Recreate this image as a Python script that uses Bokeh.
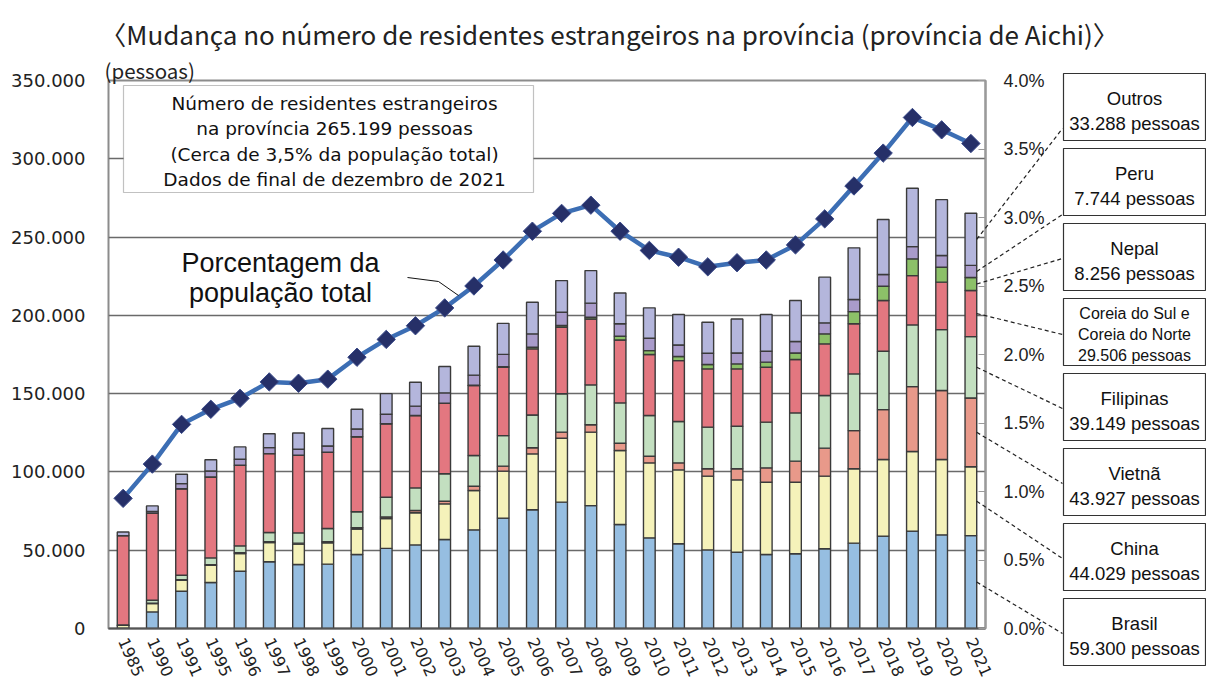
from bokeh.plotting import figure
from bokeh.models import (Range1d, LinearAxis, SingleIntervalTicker, PrintfTickFormatter,
                          CustomJSTickFormatter, Label, BoxAnnotation, Arrow, ColumnDataSource,
                          GridBox)
from bokeh.core.properties import value
from bokeh.embed import file_html
from bokeh.resources import INLINE

years = ["1985", "1990", "1991", "1995", "1996", "1997", "1998", "1999", "2000", "2001",
         "2002", "2003", "2004", "2005", "2006", "2007", "2008", "2009", "2010", "2011",
         "2012", "2013", "2014", "2015", "2016", "2017", "2018", "2019", "2020", "2021"]

brasil = [200, 10600, 23800, 29400, 36600, 42600, 40900, 41100, 47300, 51200,
          53400, 56800, 63000, 70500, 75800, 80700, 78500, 66400, 57900, 54100,
          50200, 48700, 47300, 47700, 50900, 54500, 59000, 62200, 59800, 59300]
china = [1800, 5300, 7000, 11000, 11300, 12300, 13000, 13600, 16200, 19000,
         20500, 22800, 25100, 30000, 35700, 40800, 46900, 47300, 47900, 47200,
         47100, 46200, 46100, 45700, 46400, 47500, 48900, 50800, 48100, 44029]
vietna = [100, 200, 300, 400, 500, 500, 600, 700, 800, 1000,
          1500, 1700, 2800, 3200, 3900, 3900, 4700, 4600, 4200, 4500,
          4700, 7100, 9200, 13500, 17900, 24400, 31900, 41500, 44100, 43927]
filipinas = [200, 1900, 2900, 4300, 4400, 5900, 6600, 8500, 10300, 12600,
             14400, 17500, 19600, 19500, 21000, 24500, 25500, 25800, 26000, 26400,
             26600, 27200, 29200, 30800, 33600, 36200, 37300, 39400, 38900, 39149]
coreia = [57000, 55800, 55300, 51700, 51500, 50400, 49600, 48700, 47900, 47000,
          46200, 45100, 44700, 43700, 42200, 42500, 42100, 40200, 39000, 38900,
          37200, 36600, 35100, 34100, 33000, 32000, 32400, 31500, 30300, 29506]
nepal = [0, 0, 0, 0, 0, 0, 0, 0, 0, 0,
         0, 0, 200, 300, 1000, 1100, 1100, 2400, 2500, 2600,
         2800, 3200, 3200, 4200, 6400, 7800, 9100, 10700, 9500, 8256]
peru = [0, 1000, 3200, 3800, 3800, 3800, 3800, 4000, 4900, 6000,
        6000, 6600, 6400, 7900, 8600, 8500, 9000, 7900, 7900, 7400,
        7200, 7000, 7000, 7300, 7000, 7700, 7500, 7800, 7500, 7744]
outros = [2300, 3500, 6000, 7200, 7900, 8900, 10400, 11100, 12600, 13200,
          15300, 16800, 18500, 19800, 20200, 20200, 20800, 19700, 19400, 19400,
          19800, 21700, 23400, 26200, 29200, 33000, 35100, 37300, 35700, 33288]
pct = [0.95, 1.20, 1.49, 1.60, 1.68, 1.80, 1.79, 1.82, 1.98, 2.11,
       2.21, 2.34, 2.50, 2.69, 2.90, 3.03, 3.09, 2.90, 2.76, 2.71,
       2.64, 2.67, 2.69, 2.80, 2.99, 3.23, 3.47, 3.73, 3.64, 3.54]

series_keys = ["brasil", "china", "vietna", "filipinas", "coreia", "nepal", "peru", "outros"]
series_names = ["Brasil", "China", "Vietnã", "Filipinas", "Coreia do Sul e|Coreia do Norte",
                "Nepal", "Peru", "Outros"]
colors = ["#96BEE1", "#F5F2BA", "#E8998A", "#C3DFC0", "#E37780", "#8CC068", "#A99BCA", "#B4B6DC"]

title_text = "〈Mudança no número de residentes estrangeiros na província (província de Aichi)〉"
unit_text = "(pessoas)"
info_lines = ["Número de residentes estrangeiros",
              "na província 265.199 pessoas",
              "(Cerca de 3,5% da população total)",
              "Dados de final de dezembro de 2021"]

data = dict(years=years, brasil=brasil, china=china, vietna=vietna, filipinas=filipinas,
            coreia=coreia, nepal=nepal, peru=peru, outros=outros, pct=pct)
src = ColumnDataSource(data)

W, H = 1206, 684
FL, FR, FT, FB = 108, 985, 80, 628   # frame edges (canvas px)
YMAX = 350000

p = figure(width=W, height=H, x_range=years, y_range=Range1d(0, YMAX),
           output_backend="svg", toolbar_location=None,
           min_border_left=FL, min_border_right=W - FR, min_border_top=FT, min_border_bottom=H - FB)
p.frame_align = False
p.background_fill_color = "white"
p.border_fill_color = "white"
p.outline_line_color = "#8c8c8c"
p.outline_line_width = 2

p.extra_y_ranges = {"pct": Range1d(0, 4.0)}

p.vbar_stack(series_keys, x="years", width=0.4, source=src,
             fill_color=colors, line_color="#3a3a3a", line_width=1.4)

p.line("years", "pct", source=src, y_range_name="pct", line_color="#3C6EB4", line_width=4.5)
p.scatter("years", "pct", source=src, y_range_name="pct", marker="square", angle=0.785,
          size=13, fill_color="#263068", line_color="#3a4a8a", line_width=1)

lab_font = "Liberation Sans"
wide_font = "DejaVu Sans"
yax = p.yaxis[0]
yax.ticker = SingleIntervalTicker(interval=50000)
yax.formatter = CustomJSTickFormatter(code=r"return tick.toString().replace(/\B(?=(\d{3})+(?!\d))/g, '.');")
yax.axis_line_color = None
yax.major_tick_line_color = None
yax.major_tick_out = 0
yax.minor_tick_line_color = None
yax.major_label_standoff = 19
yax.major_label_text_font = wide_font
yax.major_label_text_font_size = "18px"
yax.major_label_text_color = "#222222"

rax = LinearAxis(y_range_name="pct", ticker=SingleIntervalTicker(interval=0.5),
                 formatter=PrintfTickFormatter(format="%.1f%%"))
rax.axis_line_color = "#9a9a9a"
rax.axis_line_width = 2
rax.major_tick_in = 7
rax.major_tick_out = 0
rax.major_tick_line_color = "#9a9a9a"
rax.minor_tick_line_color = None
rax.major_label_standoff = 14
rax.major_label_text_font = lab_font
rax.major_label_text_font_size = "18px"
rax.major_label_text_color = "#222222"
p.add_layout(rax, "right")

xax = p.xaxis[0]
xax.axis_line_color = "#555555"
xax.axis_line_width = 2
xax.major_tick_line_color = None
xax.major_tick_out = 0
xax.major_tick_in = 0
xax.major_label_orientation = -1.15
xax.major_label_standoff = 10
xax.major_label_text_font = wide_font
xax.major_label_text_font_size = "16px"
xax.major_label_text_color = "#222222"

p.ygrid.grid_line_color = "#6a6a6a"
p.ygrid.grid_line_width = 1.5
p.xgrid.grid_line_color = None

# info box inside the plot
p.add_layout(BoxAnnotation(left=123, right=533, top=85, bottom=192,
                           left_units="canvas", right_units="canvas", top_units="canvas",
                           bottom_units="canvas", fill_color="white", fill_alpha=1.0,
                           line_color="#333333", line_width=1.2))
for i, t in enumerate(info_lines):
    p.add_layout(Label(x=334, y=103 + i * 25.3, x_units="canvas", y_units="canvas", text=t,
                       text_align="center", text_baseline="middle", text_font=wide_font,
                       text_font_size="18.5px", text_color="#111111"))

p.add_layout(Label(x=280, y=262, x_units="canvas", y_units="canvas", text="Porcentagem da",
                   text_align="center", text_baseline="middle", text_font=lab_font,
                   text_font_size="27px", text_color="#111111"))
p.add_layout(Label(x=280, y=292, x_units="canvas", y_units="canvas", text="população total",
                   text_align="center", text_baseline="middle", text_font=lab_font,
                   text_font_size="27px", text_color="#111111"))
p.add_layout(Arrow(end=None, x_start=407, y_start=277, x_end=438, y_end=281,
                   start_units="canvas", end_units="canvas", line_color="#111111", line_width=1))
p.add_layout(Arrow(end=None, x_start=438, y_start=281, x_end=458, y_end=295,
                   start_units="canvas", end_units="canvas", line_color="#111111", line_width=1))

# ---- transparent overlay (canvas pixel space) for title and right-hand callouts ----
ov = figure(width=W, height=H, x_range=Range1d(0, W), y_range=Range1d(H, 0),
            output_backend="svg", toolbar_location=None, x_axis_type=None, y_axis_type=None,
            min_border=0)
ov.frame_align = False
ov.grid.visible = False
ov.outline_line_color = None
ov.background_fill_alpha = 0
ov.border_fill_alpha = 0

ov.text(x=[609], y=[33], text=[title_text], text_align="center", text_baseline="middle",
        text_font=value("Noto Sans CJK JP"), text_font_size="26px", text_color="#222222")
ov.text(x=[104], y=[69], text=[unit_text], text_align="left", text_baseline="middle",
        text_font=value("Noto Sans CJK JP"), text_font_size="20.5px", text_color="#222222")

box_tops = [598, 523, 448, 373, 298, 223, 148, 73]
box_h = 67
end_ys = [633, 558, 483, 408, 334, 258, 214, 128]
last = len(years) - 1
step = (FR - FL) / len(years)
x_bar_edge = FL + (last + 0.5 + 0.2) * step
cum = 0
seg = dict(x0=[], y0=[], x1=[], y1=[])
boxes = dict(top=[], bottom=[])
tx, ty, tt, tfs = [], [], [], []
for k, key in enumerate(series_keys):
    v = data[key][last]
    mid = cum + v / 2.0
    cum += v
    y_mid = FT + (1 - mid / YMAX) * (FB - FT)
    seg["x0"].append(x_bar_edge)
    seg["y0"].append(y_mid)
    seg["x1"].append(1062)
    seg["y1"].append(end_ys[k])
    top = box_tops[k]
    boxes["top"].append(top)
    boxes["bottom"].append(top + box_h)
    val = "{:,}".format(v).replace(",", ".") + " pessoas"
    lines = series_names[k].split("|") + [val]
    if len(lines) == 2:
        ys = [top + 25, top + 50]
        fs = "18.5px"
    else:
        ys = [top + 15, top + 36, top + 57]
        fs = "16px"
    for t, yy in zip(lines, ys):
        tx.append(1134)
        ty.append(yy)
        tt.append(t)
        tfs.append(fs)

ov.segment(x0="x0", y0="y0", x1="x1", y1="y1", source=ColumnDataSource(seg),
           line_color="#222222", line_width=1.2, line_dash="4 3")
ov.quad(left=1063, right=1205, top="top", bottom="bottom", source=ColumnDataSource(boxes),
        fill_color="white", line_color="#333333", line_width=1.2)
ov.text(x="x", y="y", text="t", source=ColumnDataSource(dict(x=tx, y=ty, t=tt, fs=tfs)),
        text_font_size="fs", text_align="center", text_baseline="middle",
        text_font=value(lab_font), text_color="#111111")

grid = GridBox(children=[(p, 0, 0), (ov, 0, 0)])
open("out.html", "w").write(file_html(grid, INLINE))
